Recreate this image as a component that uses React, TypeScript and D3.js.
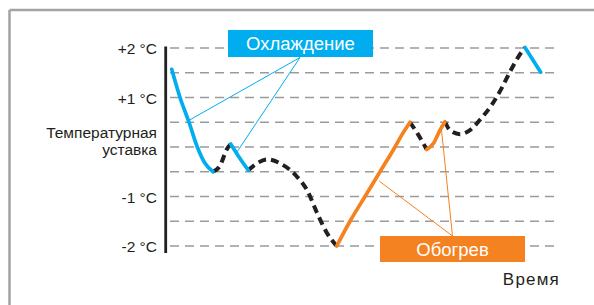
import React from "react";
import * as d3 from "d3";

// ---- data (time units, temperature deviation in °C) ----
const coolingSeg1: [number, number][] = [
  [0.17, 1.57], [1.0, 1.0], [1.9, 0.5], [2.73, 0.0], [3.5, -0.33], [4.3, -0.5],
];
const idleSeg1: [number, number][] = [
  [4.3, -0.5], [5.0, -0.38], [5.67, -0.05], [6.07, 0.06],
];
const coolingSeg2: [number, number][] = [
  [6.07, 0.06], [6.83, -0.18], [7.83, -0.47],
];
const idleSeg2: [number, number][] = [
  [7.83, -0.47], [8.7, -0.33], [9.7, -0.25], [11.0, -0.33], [12.7, -0.6],
  [13.7, -0.87], [14.7, -1.33], [15.7, -1.74], [16.67, -2.0],
];
const heatingSeg1: [number, number][] = [
  [16.67, -2.0], [18.0, -1.5], [19.5, -1.0], [21.0, -0.5], [22.5, 0.0], [23.17, 0.24], [24.0, 0.5],
];
const idleSeg3: [number, number][] = [
  [24.0, 0.5], [24.73, 0.28], [25.67, -0.05],
];
const heatingSeg2: [number, number][] = [
  [25.67, -0.05], [26.33, 0.07], [27.0, 0.34], [27.5, 0.51],
];
const idleSeg4: [number, number][] = [
  [27.5, 0.51], [28.0, 0.34], [29.0, 0.26], [30.0, 0.34], [31.0, 0.55],
  [32.17, 0.85], [33.17, 1.19], [34.0, 1.52], [34.83, 1.82], [35.5, 2.01],
];
const coolingSeg3: [number, number][] = [
  [35.5, 2.01], [37.07, 1.51],
];

const gridLevels = [2, 1.5, 1, 0.5, 0, -0.5, -1, -1.5, -2];
const tickValues = [2, 1, -1, -2];
const tickLabels = ["+2 °C", "+1 °C", "-1 °C", "-2 °C"];
const setpointLabel = ["Температурная", "уставка"];
const coolingLabel = "Охлаждение";
const heatingLabel = "Обогрев";
const timeLabel = "Время";
// leader-line targets on the curves (time, temp)
const coolingTargets: [number, number][] = [[2.0, 0.55], [6.7, -0.1]];
const heatingTargets: [number, number][] = [[20.93, -0.69], [27.1, 0.44]];

const BLUE = "#00aeef";
const ORANGE = "#f58220";
const DARK = "#231f20";
const FONT = "'Liberation Sans', Arial, Helvetica, sans-serif";

export default function App() {
  const W = 594, H = 305;
  const x = d3.scaleLinear().domain([0, 39]).range([170, 560]);
  const y = d3.scaleLinear().domain([-2, 2]).range([246, 48]);
  const line = d3
    .line<[number, number]>()
    .x((d) => x(d[0]))
    .y((d) => y(d[1]))
    .curve(d3.curveMonotoneX);

  const idle = [idleSeg1, idleSeg2, idleSeg3, idleSeg4];
  const cooling = [coolingSeg1, coolingSeg2, coolingSeg3];
  const heating = [heatingSeg1, heatingSeg2];

  const coolBox = { x: 228, y: 30, w: 145, h: 27 };
  const heatBox = { x: 380, y: 236, w: 145, h: 26 };
  const coolAnchor = [300, 57.5];
  const heatAnchor = [452.5, 236];

  return (
    <div style={{ position: "fixed", left: 0, top: 0, width: W, height: H, background: "#fff" }}>
      <svg width={W} height={H} style={{ display: "block" }}>
        <rect x={0} y={0} width={W} height={H} fill="#fff" />
        {/* frame */}
        <line x1={9.5} y1={10} x2={W} y2={10} stroke="#a3a3a3" strokeWidth={2.5} />
        <line x1={9.5} y1={10} x2={9.5} y2={H} stroke="#a3a3a3" strokeWidth={2.5} />

        {/* grid */}
        {gridLevels.map((v) => (
          <line
            key={v}
            x1={170}
            x2={560}
            y1={y(v)}
            y2={y(v)}
            stroke="#9b9b9b"
            strokeWidth={1.6}
            strokeDasharray="9 6"
          />
        ))}

        {/* axis */}
        <line x1={165.7} x2={165.7} y1={46.5} y2={253} stroke={DARK} strokeWidth={2.8} />

        {/* tick labels */}
        {tickValues.map((v, i) => (
          <text
            key={v}
            x={157}
            y={y(v) + 6.3}
            textAnchor="end"
            fontFamily={FONT}
            fontSize={15.5}
            fill={DARK}
          >
            {tickLabels[i]}
          </text>
        ))}
        <text x={157} y={137.7} textAnchor="end" fontFamily={FONT} fontSize={15.5} fill={DARK}>
          {setpointLabel[0]}
        </text>
        <text x={157} y={155} textAnchor="end" fontFamily={FONT} fontSize={15.5} fill={DARK}>
          {setpointLabel[1]}
        </text>

        {/* leader lines */}
        {coolingTargets.map((p, i) => (
          <line key={"cl" + i} x1={coolAnchor[0]} y1={coolAnchor[1]} x2={x(p[0])} y2={y(p[1])} stroke={BLUE} strokeWidth={1} />
        ))}
        {heatingTargets.map((p, i) => (
          <line key={"hl" + i} x1={heatAnchor[0]} y1={heatAnchor[1]} x2={x(p[0])} y2={y(p[1])} stroke={ORANGE} strokeWidth={1} />
        ))}

        {/* curves */}
        {idle.map((s, i) => (
          <path key={"i" + i} d={line(s) || ""} fill="none" stroke={DARK} strokeWidth={4} strokeDasharray="8 5" />
        ))}
        {cooling.map((s, i) => (
          <path key={"c" + i} d={line(s) || ""} fill="none" stroke={BLUE} strokeWidth={3.7} strokeLinecap="round" />
        ))}
        {heating.map((s, i) => (
          <path key={"h" + i} d={line(s) || ""} fill="none" stroke={ORANGE} strokeWidth={3.7} strokeLinecap="round" />
        ))}

        {/* labels boxes */}
        <rect x={coolBox.x} y={coolBox.y} width={coolBox.w} height={coolBox.h} fill={BLUE} />
        <text
          x={coolBox.x + coolBox.w / 2}
          y={coolBox.y + coolBox.h / 2 + 6.5}
          textAnchor="middle"
          fontFamily={FONT}
          fontSize={18.5}
          fill="#fff"
        >
          {coolingLabel}
        </text>
        <rect x={heatBox.x} y={heatBox.y} width={heatBox.w} height={heatBox.h} fill={ORANGE} />
        <text
          x={heatBox.x + heatBox.w / 2}
          y={heatBox.y + heatBox.h / 2 + 6.5}
          textAnchor="middle"
          fontFamily={FONT}
          fontSize={18.5}
          fill="#fff"
        >
          {heatingLabel}
        </text>

        <text x={560} y={285} textAnchor="end" fontFamily={FONT} fontSize={17} letterSpacing={1.2} fill={DARK}>
          {timeLabel}
        </text>
      </svg>
    </div>
  );
}
